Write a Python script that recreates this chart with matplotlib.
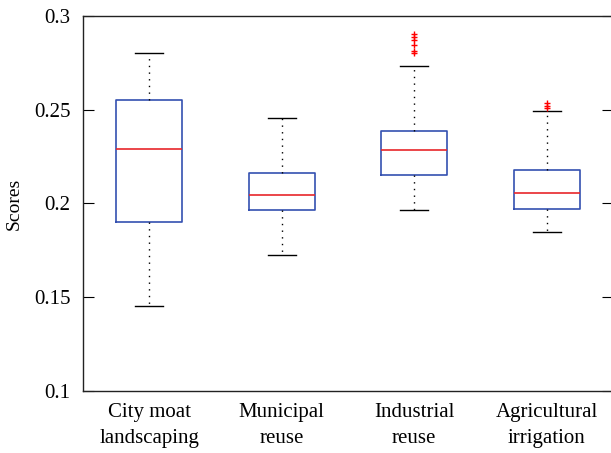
import matplotlib
matplotlib.use("Agg")
import matplotlib.pyplot as plt

labels = ["City moat\nlandscaping", "Municipal\nreuse", "Industrial\nreuse", "Agricultural\nirrigation"]
whislo = [0.1453, 0.1725, 0.1965, 0.1848]
q1 = [0.1901, 0.1965, 0.2152, 0.1971]
med = [0.2291, 0.2047, 0.2287, 0.2056]
q3 = [0.2552, 0.2163, 0.2387, 0.2180]
whishi = [0.2803, 0.2456, 0.2730, 0.2495]
fliers = [[], [], [0.2904, 0.2888, 0.2872, 0.2845, 0.2813, 0.2803], [0.2536, 0.2520, 0.2509]]

plt.rcParams['font.family'] = ['Liberation Serif', 'DejaVu Serif']

stats = []
for i in range(len(labels)):
    stats.append(dict(label=labels[i], whislo=whislo[i], q1=q1[i], med=med[i],
                      q3=q3[i], whishi=whishi[i], fliers=fliers[i]))

fig = plt.figure(figsize=(6.11, 4.53), dpi=100)
ax = fig.add_axes([0.136, 0.137, 0.867, 0.828])

ax.bxp(stats, widths=0.5, capwidths=0.21, showfliers=True,
       boxprops=dict(color="#3450b0", linewidth=1.2),
       medianprops=dict(color="#e8262a", linewidth=1.2),
       whiskerprops=dict(color="black", linestyle=(0, (1, 3.8)), linewidth=1),
       capprops=dict(color="black", linewidth=1),
       flierprops=dict(marker="+", markeredgecolor="red", markersize=5, linestyle="none"))

ax.set_xlim(0.5, 4.5)
ax.set_ylim(0.1, 0.3)
ax.set_yticks([0.1, 0.15, 0.2, 0.25, 0.3])
ax.set_yticklabels(["0.1", "0.15", "0.2", "0.25", "0.3"])
ax.tick_params(axis="y", direction="in", length=8, right=True, labelsize=15, pad=9)
ax.tick_params(axis="x", length=0, labelsize=15, pad=9)
for t in ax.get_xticklabels():
    t.set_linespacing(1.45)
ax.set_ylabel("Scores", fontsize=14, labelpad=8)
for s in ax.spines.values():
    s.set_color("#222222")
    s.set_linewidth(1)

plt.savefig("out.png", dpi=100)
